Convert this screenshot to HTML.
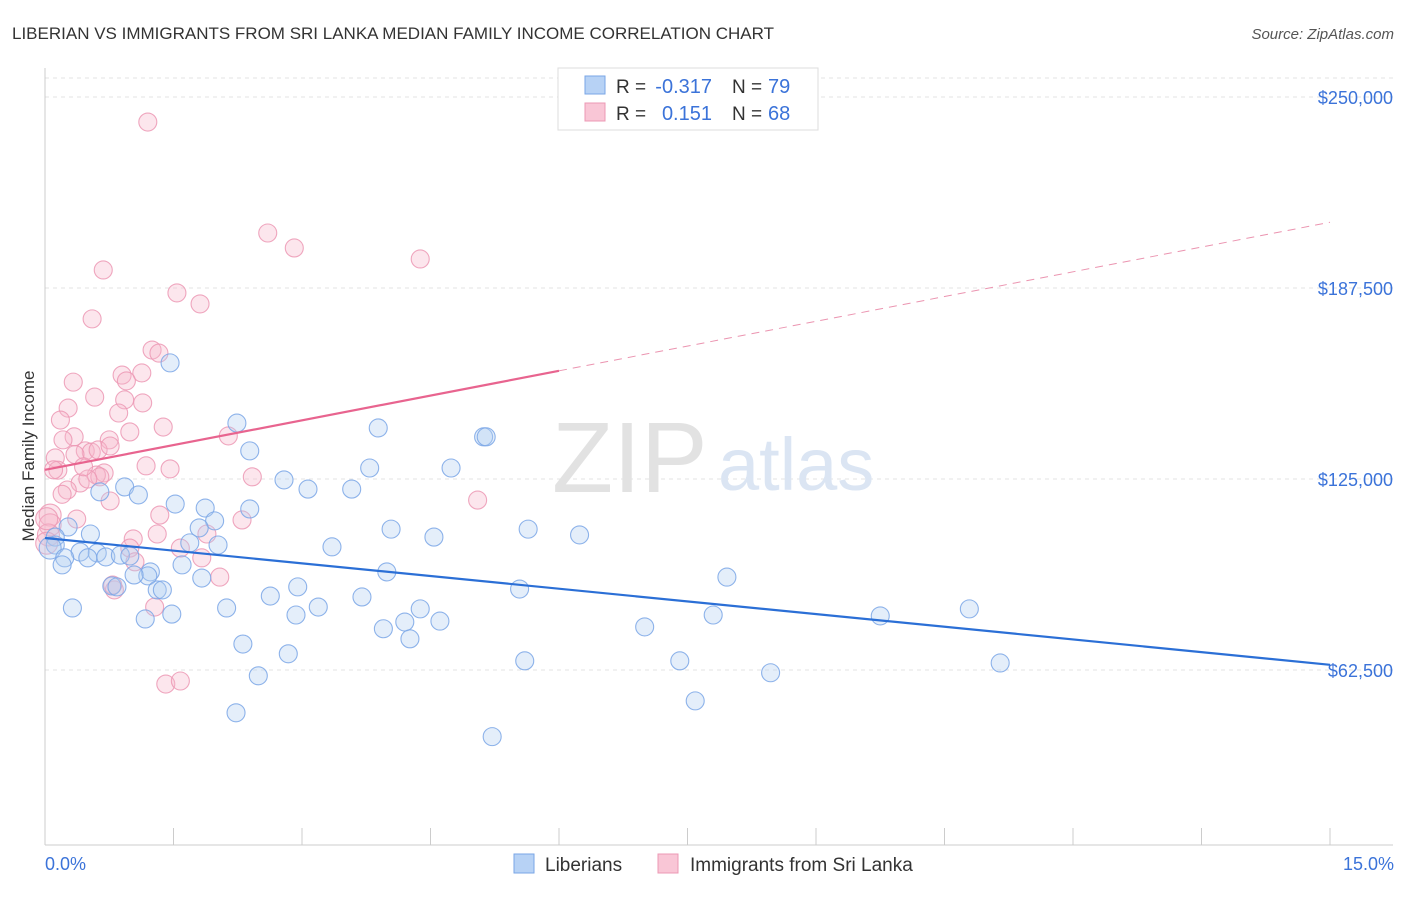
<!DOCTYPE html>
<html><head><meta charset="utf-8"><style>
body{margin:0;background:#fff;font-family:"Liberation Sans",sans-serif;}
svg text{font-family:"Liberation Sans",sans-serif;}
</style></head><body>
<svg id="chart" width="1406" height="892" viewBox="0 0 1406 892" xmlns="http://www.w3.org/2000/svg">
<text x="12" y="39" font-size="17" fill="#333">LIBERIAN VS IMMIGRANTS FROM SRI LANKA MEDIAN FAMILY INCOME CORRELATION CHART</text>
<text x="1394" y="39" font-size="15" fill="#555" text-anchor="end" font-style="italic">Source: ZipAtlas.com</text>
<g id="grid"></g>
<text x="552" y="492" font-size="100" fill="#e2e2e2" font-family="Liberation Serif">ZIP</text>
<text x="718" y="490" font-size="74" fill="#dbe5f3">atlas</text>
<g id="marks"></g>
<text transform="translate(34,456) rotate(-90)" font-size="17" fill="#333" text-anchor="middle">Median Family Income</text>
<text x="45" y="870" font-size="18" fill="#3b73d9">0.0%</text>
<text x="1394" y="870" font-size="18" fill="#3b73d9" text-anchor="end">15.0%</text>
<g>
<rect x="558" y="68" width="260" height="62" fill="#fff" stroke="#ddd"/>
<rect x="585" y="76" width="20" height="18" fill="#b7d2f5" stroke="#7aa6e6"/>
<rect x="585" y="103" width="20" height="18" fill="#f9c6d6" stroke="#ec98b4"/>
<text x="616" y="93" font-size="19" fill="#333">R =</text>
<text x="712" y="93" font-size="20" fill="#3b73d9" text-anchor="end">-0.317</text>
<text x="732" y="93" font-size="19" fill="#333">N =</text>
<text x="768" y="93" font-size="20" fill="#3b73d9">79</text>
<text x="616" y="120" font-size="19" fill="#333">R =</text>
<text x="712" y="120" font-size="20" fill="#3b73d9" text-anchor="end">0.151</text>
<text x="732" y="120" font-size="19" fill="#333">N =</text>
<text x="768" y="120" font-size="20" fill="#3b73d9">68</text>
</g>
<g>
<rect x="514" y="854" width="20" height="19" fill="#b7d2f5" stroke="#7aa6e6"/>
<text x="545" y="871" font-size="19" fill="#333">Liberians</text>
<rect x="658" y="854" width="20" height="19" fill="#f9c6d6" stroke="#ec98b4"/>
<text x="690" y="871" font-size="19" fill="#333">Immigrants from Sri Lanka</text>
</g>
</svg>
<script>
const yTicks=[250000,187500,125000,62500];
const yTickLabels=["$250,000","$187,500","$125,000","$62,500"];
const xTicks=[0,1.5,3,4.5,6,7.5,9,10.5,12,13.5,15];
const blueX=[1.46,2.24,3.89,5.12,5.15,2.39,4.74,3.79,2.79,3.07,3.58,0.93,0.64,1.09,1.52,1.87,2.39,1.98,0.27,1.80,4.04,4.54,5.64,6.24,0.53,0.12,0.12,1.69,2.02,3.35,0.06,0.41,0.61,0.23,0.50,0.71,0.88,0.99,0.20,1.60,1.23,1.20,1.04,1.83,3.99,7.96,0.78,0.84,2.95,1.31,1.37,5.54,2.63,3.70,0.32,2.12,3.19,4.38,10.79,1.17,1.48,2.93,4.20,4.61,7.80,9.75,3.95,7.00,4.26,2.31,2.84,5.60,7.41,11.15,2.49,8.47,7.59,2.23,5.22];
const blueY=[163.0,143.3,141.7,138.8,138.8,134.2,128.6,128.6,124.7,121.7,121.7,122.4,120.8,119.8,116.8,115.5,115.2,111.3,109.3,109.0,108.6,106.0,108.6,106.7,107.0,106.0,103.4,104.1,103.4,102.8,102.4,101.1,100.8,99.2,99.2,99.5,100.1,99.8,96.9,96.9,94.6,93.3,93.6,92.6,94.6,92.9,90.0,89.7,89.7,88.7,88.7,89.0,86.7,86.4,82.8,82.8,83.1,82.5,82.5,79.2,80.8,80.5,78.2,78.5,80.5,80.2,76.0,76.6,72.7,71.0,67.8,65.5,65.5,64.8,60.6,61.6,52.4,48.5,40.7];
const pinkX=[1.20,2.60,2.91,4.38,0.68,1.54,1.81,0.55,1.25,1.33,0.90,1.13,0.33,0.95,0.58,0.93,1.14,0.86,0.27,0.18,1.38,0.99,2.14,0.34,0.21,0.75,0.12,0.47,0.54,0.62,0.76,0.15,0.69,0.60,0.41,0.26,0.64,1.18,1.46,2.42,0.76,5.05,0.06,0.37,1.34,2.30,0.06,0.04,1.31,1.89,1.03,1.58,0.99,1.83,1.05,2.04,0.81,0.79,1.28,1.41,1.58,0.02,0.02,0.50,0.10,0.35,0.20,0.45];
const pinkY=[241.8,205.5,200.6,197.0,193.4,185.9,182.3,177.4,167.2,166.2,159.0,159.7,156.7,157.1,151.8,150.9,149.9,146.6,148.2,144.3,142.0,140.4,139.1,138.8,137.8,137.8,131.9,134.2,133.8,134.5,135.8,127.9,127.0,126.3,123.7,121.4,125.7,129.3,128.3,125.7,117.8,118.1,113.2,111.9,113.2,111.6,110.0,106.7,107.0,107.0,105.4,102.4,102.4,99.2,97.9,92.9,88.7,90.3,83.1,57.9,58.9,104.0,112.0,125.0,128.0,133.0,120.0,129.0];
const blueFit=[105.7,64.2];
const pinkFit=[128.0,209.0];
const NS="http://www.w3.org/2000/svg";
const X=v=>45+(v/15)*1285;
const Y=v=>97+(250000-v)/62500*191;
const grid=document.getElementById('grid'),marks=document.getElementById('marks');
function mk(tag,attrs,parent){const e=document.createElementNS(NS,tag);for(const k in attrs)e.setAttribute(k,attrs[k]);parent.appendChild(e);return e;}
let e=mk('line',{x1:45,x2:1393,y1:78,y2:78,stroke:'#e3e3e3','stroke-dasharray':'4,4'},grid);


yTicks.forEach((t,i)=>{
 const l=mk('line',{x1:45,x2:1393,y1:Y(t),y2:Y(t),stroke:'#e3e3e3','stroke-dasharray':'4,4'},grid);
 
 
 const tx=mk('text',{x:1393,y:Y(t)+7,'font-size':18,fill:'#3b73d9','text-anchor':'end'},grid);
 tx.textContent=yTickLabels[i];
 
 
});
e=mk('line',{x1:45,x2:45,y1:68,y2:845,stroke:'#ccc'},grid);


e=mk('line',{x1:45,x2:1393,y1:845,y2:845,stroke:'#ccc'},grid);


xTicks.forEach(t=>{
 const l=mk('line',{x1:X(t),x2:X(t),y1:828,y2:845,stroke:'#ccc'},grid);
 
 
});
function dots(xs,ys,fill,stroke,name){
 xs.forEach((x,i)=>{
  const r=(x<0.07)?11:9;
  const c=mk('circle',{cx:X(x),cy:Y(ys[i]*1000),r:r,fill:fill,stroke:stroke,'stroke-width':1.1,'fill-opacity':0.35,'stroke-opacity':0.85},marks);
  
  
 });
}
dots(pinkX,pinkY,'#f7b8cc','#ec98b4','sri-lanka-point');
dots(blueX,blueY,'#b3cdf2','#7aa6e6','liberian-point');
e=mk('line',{x1:X(0),y1:Y(blueFit[0]*1000),x2:X(15),y2:Y(blueFit[1]*1000),stroke:'#2b6fd6','stroke-width':2.2},marks);


const py=v=>pinkFit[0]+(pinkFit[1]-pinkFit[0])*v/15;
e=mk('line',{x1:X(0),y1:Y(py(0)*1000),x2:X(6),y2:Y(py(6)*1000),stroke:'#e8648f','stroke-width':2.2},marks);


e=mk('line',{x1:X(6),y1:Y(py(6)*1000),x2:X(15),y2:Y(py(15)*1000),stroke:'#eb94b0','stroke-width':1,'stroke-dasharray':'8,6'},marks);


</script>
</body></html>
